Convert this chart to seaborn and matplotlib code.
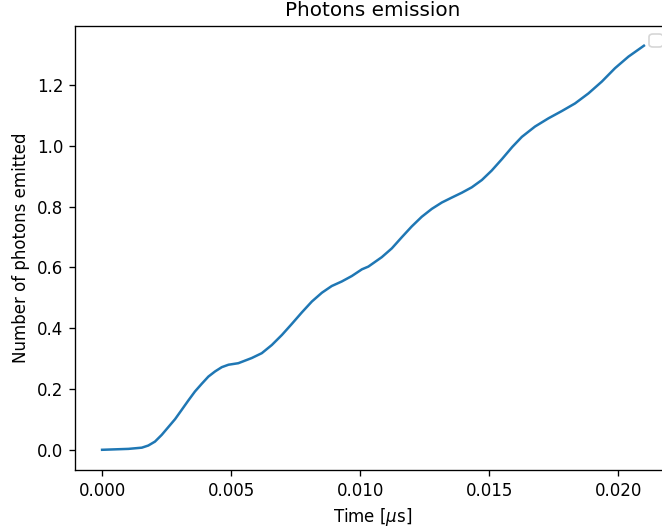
import matplotlib
matplotlib.use("Agg")
import matplotlib.pyplot as plt
import seaborn as sns
import pandas as pd

time_us = [0.0, 0.00102, 0.00154, 0.00179, 0.00205, 0.00231, 0.00257, 0.00283,
           0.00309, 0.00334, 0.00360, 0.00386, 0.00412, 0.00438, 0.00464, 0.00490,
           0.00528, 0.00580, 0.00619, 0.00658, 0.00697, 0.00735, 0.00774, 0.00813,
           0.00852, 0.00890, 0.00929, 0.00968, 0.01007, 0.01032, 0.01084, 0.01123,
           0.01162, 0.01200, 0.01239, 0.01278, 0.01317, 0.01355, 0.01394, 0.01433,
           0.01472, 0.01510, 0.01550, 0.01590, 0.01627, 0.01678, 0.01730, 0.01782,
           0.01833, 0.01885, 0.01937, 0.01988, 0.02040, 0.02100]
photons = [0.0, 0.003, 0.007, 0.014, 0.027, 0.049, 0.075, 0.101,
           0.132, 0.162, 0.192, 0.217, 0.241, 0.258, 0.272, 0.280,
           0.285, 0.302, 0.318, 0.345, 0.378, 0.414, 0.452, 0.488,
           0.517, 0.539, 0.554, 0.572, 0.594, 0.603, 0.634, 0.663,
           0.700, 0.735, 0.767, 0.793, 0.814, 0.830, 0.846, 0.864,
           0.888, 0.919, 0.957, 0.997, 1.030, 1.064, 1.091, 1.115,
           1.140, 1.173, 1.212, 1.256, 1.294, 1.330]

df = pd.DataFrame({"t": time_us, "n": photons})

fig = plt.figure(figsize=(662 / 120, 530 / 120), dpi=120)
ax = fig.add_axes([75 / 662, 60 / 530, 596 / 662, 444.5 / 530])
sns.lineplot(data=df, x="t", y="n", ax=ax, color="#1f77b4")
ax.set_title("Photons emission")
ax.set_xlabel(r"Time [$\mu$s]")
ax.set_ylabel("Number of photons emitted")
ax.set_xticks([0.0, 0.005, 0.010, 0.015, 0.020])
ax.set_xticklabels(["0.000", "0.005", "0.010", "0.015", "0.020"])
ax.set_yticks([0.0, 0.2, 0.4, 0.6, 0.8, 1.0, 1.2])
ax.set_yticklabels(["0.0", "0.2", "0.4", "0.6", "0.8", "1.0", "1.2"])
ax.legend(loc="upper right")
fig.savefig("out.png", dpi=120)
